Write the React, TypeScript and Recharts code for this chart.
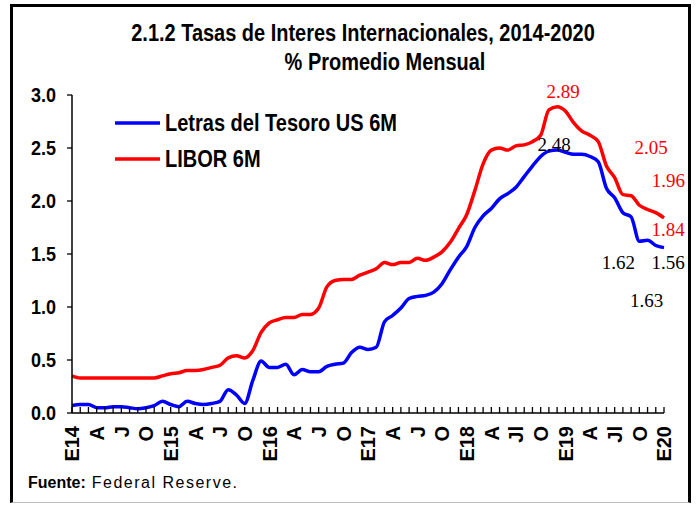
import React from 'react';
import { LineChart, Line, XAxis, YAxis, Legend } from 'recharts';

const years = [2014, 2015, 2016, 2017, 2018, 2019, 2020];
const monthNames = ['Ene', 'Feb', 'Mar', 'Abr', 'May', 'Jun', 'Jul', 'Ago', 'Sep', 'Oct', 'Nov', 'Dic'];

const tickLabels = [
  'E14', 'A', 'J', 'O',
  'E15', 'A', 'J', 'O',
  'E16', 'A', 'J', 'O',
  'E17', 'A', 'J', 'O',
  'E18', 'A', 'Jl', 'O',
  'E19', 'A', 'Jl', 'O',
  'E20',
];

const letras = [
  0.07, 0.08, 0.08, 0.05, 0.05, 0.06, 0.06, 0.05, 0.04, 0.05, 0.07, 0.11,
  0.08, 0.06, 0.11, 0.09, 0.08, 0.09, 0.11, 0.22, 0.17, 0.09, 0.31, 0.49,
  0.43, 0.43, 0.46, 0.36, 0.41, 0.39, 0.39, 0.44, 0.46, 0.47, 0.57, 0.62,
  0.60, 0.62, 0.86, 0.92, 0.99, 1.08, 1.10, 1.11, 1.14, 1.22, 1.35, 1.47,
  1.57, 1.75, 1.86, 1.93, 2.02, 2.07, 2.13, 2.23, 2.33, 2.42, 2.47, 2.48,
  2.46, 2.44, 2.44, 2.42, 2.37, 2.12, 2.03, 1.89, 1.85, 1.62, 1.63, 1.58,
  1.56,
];

const libor = [
  0.35, 0.33, 0.33, 0.33, 0.33, 0.33, 0.33, 0.33, 0.33, 0.33, 0.33, 0.35,
  0.37, 0.38, 0.40, 0.40, 0.41, 0.43, 0.45, 0.52, 0.54, 0.52, 0.59, 0.76,
  0.85, 0.88, 0.90, 0.90, 0.93, 0.93, 0.99, 1.19, 1.25, 1.26, 1.26, 1.30,
  1.33, 1.36, 1.42, 1.40, 1.42, 1.42, 1.46, 1.44, 1.47, 1.52, 1.61, 1.74,
  1.87, 2.10, 2.35, 2.48, 2.50, 2.48, 2.52, 2.53, 2.56, 2.62, 2.86, 2.89,
  2.85, 2.74, 2.66, 2.62, 2.56, 2.33, 2.22, 2.06, 2.05, 1.96, 1.92, 1.89,
  1.84,
];

const yTicks = [0, 0.5, 1, 1.5, 2, 2.5, 3];

const seriesOrder = ['letras', 'libor'];

// which points carry a value label, and where the label sits relative to the point
const annotations = [
  { series: 'libor', index: 59, dx: 6, dy: -15 },
  { series: 'libor', index: 68, dx: 20, dy: -48 },
  { series: 'libor', index: 69, dx: 29, dy: -25 },
  { series: 'libor', index: 72, dx: 4, dy: 12 },
  { series: 'letras', index: 59, dx: -3, dy: -6 },
  { series: 'letras', index: 69, dx: -21, dy: 21 },
  { series: 'letras', index: 70, dx: -1, dy: 60 },
  { series: 'letras', index: 72, dx: 4, dy: 15 },
];

const months: string[] = [];
years.forEach((y) => monthNames.forEach((m) => months.push(`${m}-${y}`)));
const data = letras.map((v, i) => ({ month: months[i], letras: v, libor: libor[i] }));

const SANS = 'Liberation Sans, Arial, sans-serif';
const SERIF = 'Liberation Serif, Times New Roman, serif';

const XTick = (props: any) => {
  const { x, y, index } = props;
  const lbl = index % 3 === 0 ? tickLabels[index / 3] : '';
  return (
    <g>
      <line x1={x} x2={x} y1={y - 6} y2={y} stroke="#000" strokeWidth={1.3} />
      {lbl ? (
        <text
          x={0}
          y={0}
          transform={`translate(${x},${y + 13}) rotate(-90)`}
          textAnchor="end"
          dy="0.36em"
          fontFamily={SANS}
          fontWeight="bold"
          fontSize={20}
          fill="#000"
        >
          {lbl}
        </text>
      ) : null}
    </g>
  );
};

const YTick = (props: any) => {
  const { x, y, payload } = props;
  return (
    <text
      x={0}
      y={0}
      transform={`translate(${x},${y}) scale(0.9,1)`}
      textAnchor="end"
      dy="0.36em"
      fontFamily={SANS}
      fontWeight="bold"
      fontSize={20}
      fill="#000"
    >
      {Number(payload.value).toFixed(1)}
    </text>
  );
};

const makeLabel = (key: string, color: string) => (props: any) => {
  const { x, y, index, value } = props;
  const a = annotations.find((an) => an.series === key && an.index === index);
  if (!a) return <g />;
  return (
    <text
      x={x + a.dx}
      y={y + a.dy}
      textAnchor="middle"
      dominantBaseline="central"
      fill={color}
      fontFamily={SERIF}
      fontSize={19}
    >
      {Number(value).toFixed(2)}
    </text>
  );
};

const LegendContent = (props: any) => {
  const { payload } = props;
  const items = [...(payload || [])].sort(
    (a: any, b: any) => seriesOrder.indexOf(a.dataKey) - seriesOrder.indexOf(b.dataKey)
  );
  return (
    <svg width={320} height={80} style={{ overflow: 'visible' }}>
      {items.map((p: any, i: number) => (
        <g key={p.value} transform={`translate(0, ${i * 36})`}>
          <line x1={0} x2={45} y1={13} y2={13} stroke={p.color} strokeWidth={3.5} />
          <text
            x={0}
            y={0}
            transform="translate(50,21) scale(0.87,1)"
            fontFamily={SANS}
            fontWeight="bold"
            fontSize={23}
            fill="#000"
          >
            {p.value}
          </text>
        </g>
      ))}
    </svg>
  );
};

export default function App() {
  return (
    <div style={{ position: 'absolute', left: 0, top: 0, width: 698, height: 505, background: '#fff' }}>
      <LineChart
        width={698}
        height={505}
        data={data}
        margin={{ top: 95, right: 34, bottom: 12, left: 12 }}
      >
        <XAxis
          dataKey="month"
          interval={0}
          tickLine={false}
          tickSize={0}
          tickMargin={0}
          height={80}
          tick={<XTick />}
          axisLine={{ stroke: '#000', strokeWidth: 1.5 }}
        />
        <YAxis
          domain={[0, 3]}
          ticks={yTicks}
          width={60}
          tickSize={5}
          tickMargin={11}
          tick={<YTick />}
          tickLine={{ stroke: '#000', strokeWidth: 1.3 }}
          axisLine={{ stroke: '#000', strokeWidth: 1.5 }}
        />
        <Legend
          layout="horizontal"
          verticalAlign="middle"
          align="center"
          wrapperStyle={{ top: 110, left: 115, width: 320, height: 80 }}
          content={<LegendContent />}
        />
        <Line
          type="monotone"
          dataKey="letras"
          name="Letras del Tesoro US 6M"
          stroke="#0000ff"
          strokeWidth={3.5}
          dot={false}
          isAnimationActive={false}
          label={makeLabel('letras', '#000000')}
        />
        <Line
          type="monotone"
          dataKey="libor"
          name="LIBOR 6M"
          stroke="#ff0000"
          strokeWidth={3.5}
          dot={false}
          isAnimationActive={false}
          label={makeLabel('libor', '#ff0000')}
        />
      </LineChart>
      <svg
        width={698}
        height={505}
        style={{ position: 'absolute', left: 0, top: 0, pointerEvents: 'none' }}
      >
        <text
          x={0}
          y={0}
          transform="translate(363,41) scale(0.85,1)"
          textAnchor="middle"
          fontFamily={SANS}
          fontWeight="bold"
          fontSize={23.5}
          fill="#000"
        >
          2.1.2 Tasas de  Interes Internacionales,  2014-2020
        </text>
        <text
          x={0}
          y={0}
          transform="translate(385,70) scale(0.85,1)"
          textAnchor="middle"
          fontFamily={SANS}
          fontWeight="bold"
          fontSize={23.5}
          fill="#000"
        >
          % Promedio Mensual
        </text>
        <text x={28} y={488} fontFamily={SANS} fontSize={16} fill="#000">
          <tspan fontWeight="bold">Fuente:</tspan>
          <tspan dx={6} letterSpacing={1.5}>Federal Reserve.</tspan>
        </text>
      </svg>
      <div
        style={{
          position: 'absolute',
          left: 10,
          top: 4,
          width: 681,
          height: 499,
          boxSizing: 'border-box',
          borderTop: '3px solid #000',
          borderLeft: '3px solid #000',
          borderRight: '3px solid #000',
          borderBottom: '1px solid #bbb',
          pointerEvents: 'none',
        }}
      />
    </div>
  );
}
